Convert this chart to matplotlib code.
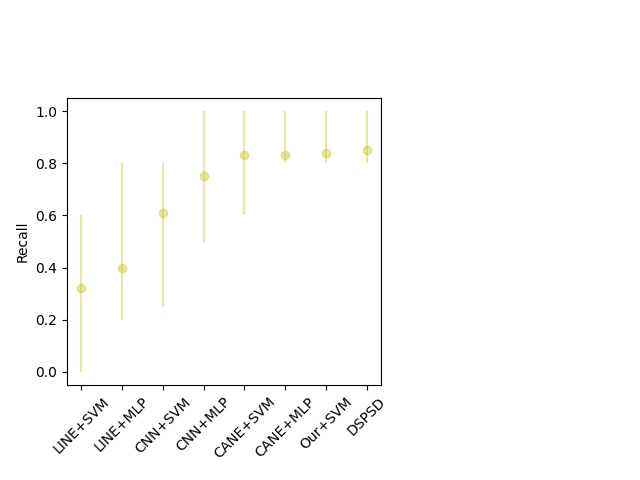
import matplotlib
matplotlib.use("Agg")
import matplotlib.pyplot as plt
import numpy as np

methods = ["LINE+SVM", "LINE+MLP", "CNN+SVM", "CNN+MLP", "CANE+SVM", "CANE+MLP", "Our+SVM", "DSPSD"]
recall = [0.32, 0.40, 0.61, 0.75, 0.83, 0.83, 0.84, 0.85]
low = [0.0, 0.2, 0.25, 0.5, 0.6, 0.8, 0.8, 0.8]
high = [0.6, 0.8, 0.8, 1.0, 1.0, 1.0, 1.0, 1.0]

x = np.arange(len(methods))
yerr = [np.array(recall) - np.array(low), np.array(high) - np.array(recall)]

fig = plt.figure(figsize=(6.4, 4.8), dpi=100)
ax = fig.add_axes([67 / 640, 95 / 480, 314 / 640, 287 / 480])
ax.errorbar(x, recall, yerr=yerr, fmt="o", color="y", alpha=0.35)
ax.set_xticks(x)
ax.set_xticklabels(methods, rotation=45)
ax.set_ylabel("Recall")

fig.savefig("out.png")
